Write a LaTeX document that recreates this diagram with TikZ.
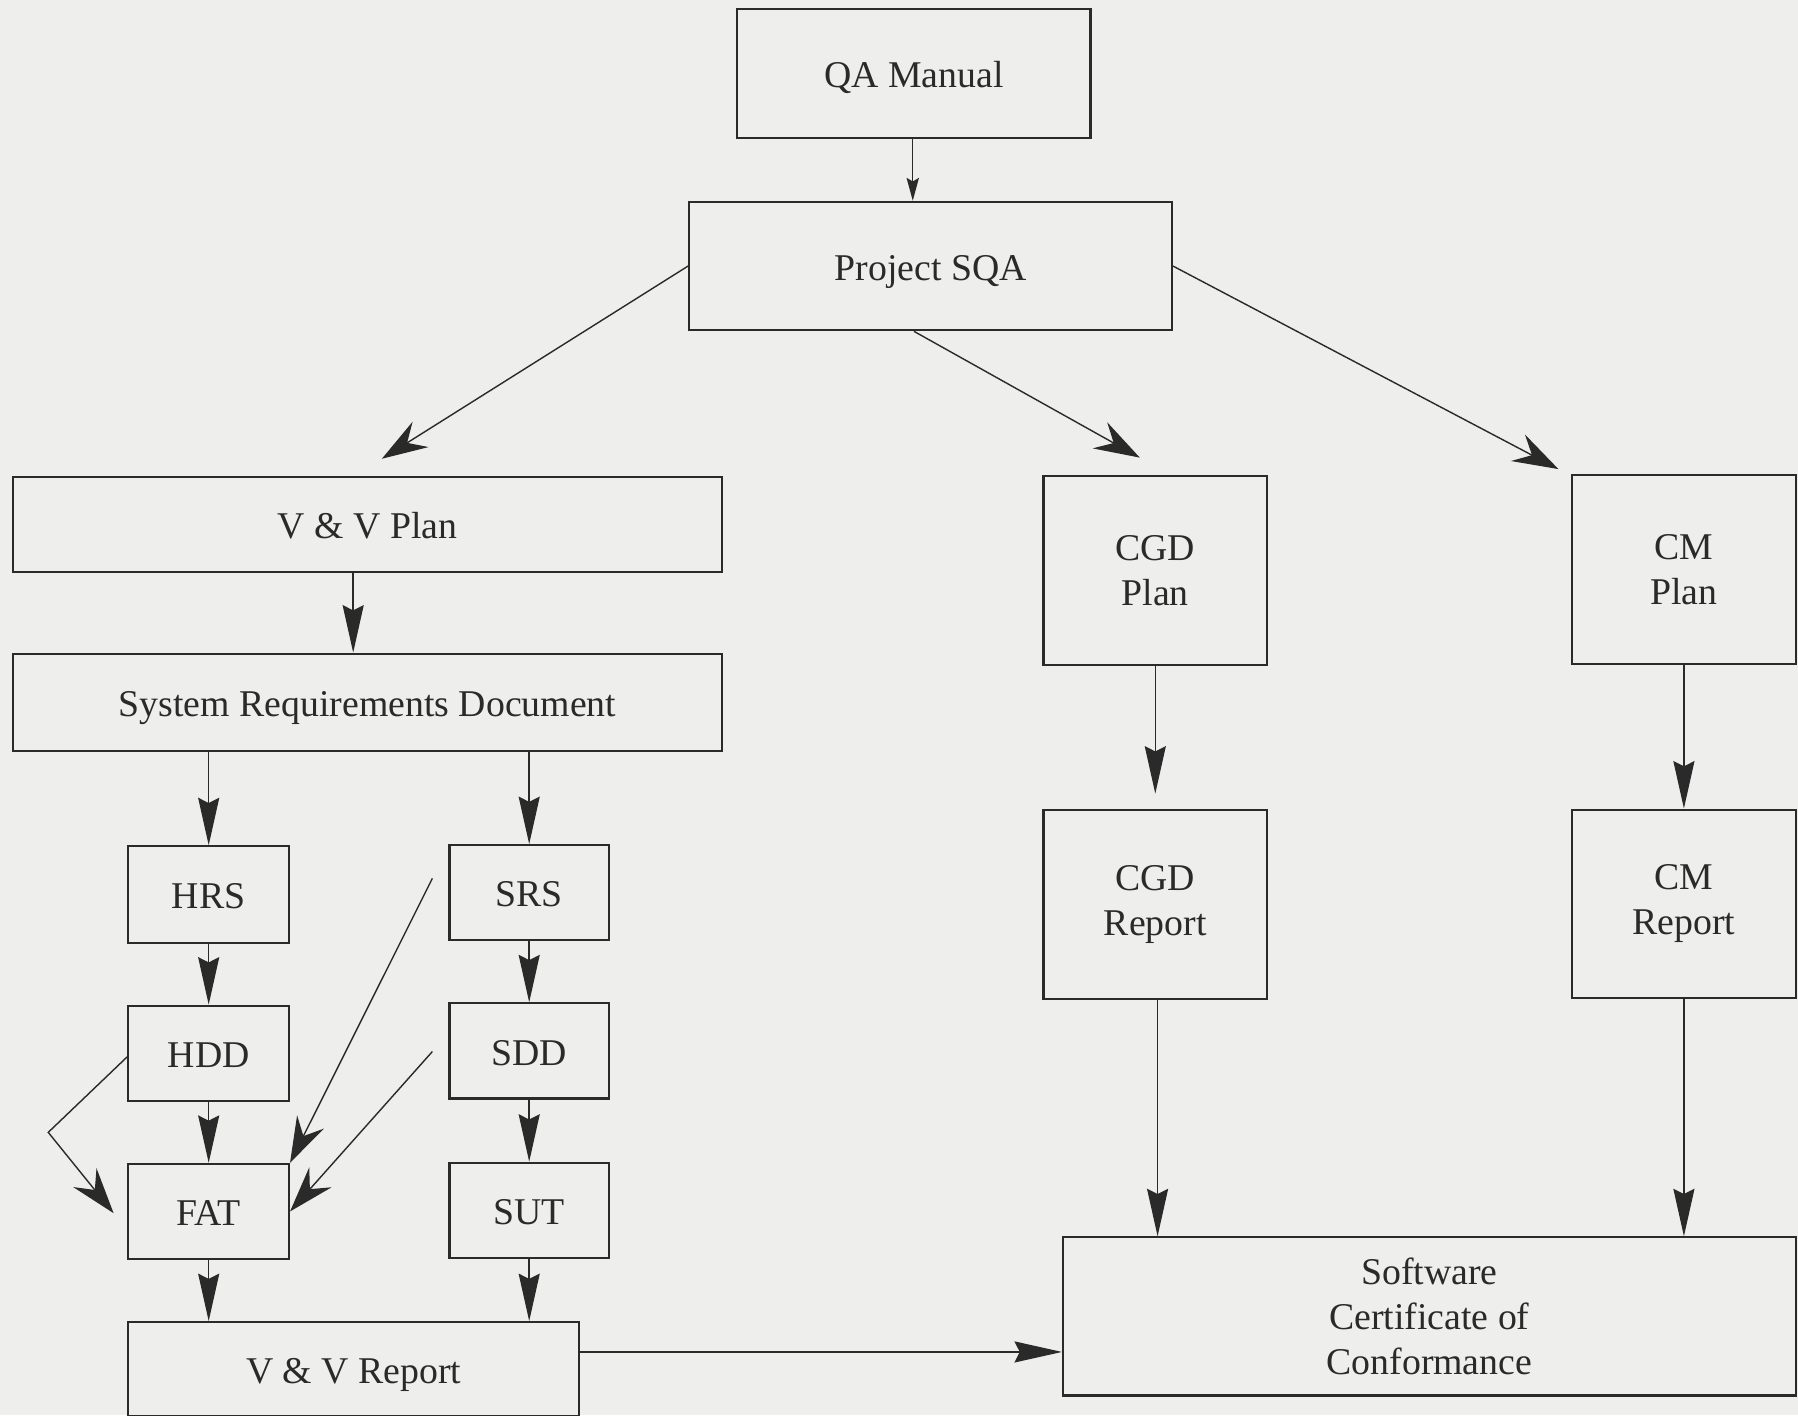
\documentclass[tikz,border=0pt]{standalone}
\usepackage{fontspec}
\setmainfont{Liberation Serif}
\usetikzlibrary{arrows.meta,calc}
\definecolor{bg}{RGB}{238,238,236}
\definecolor{ink}{RGB}{42,42,42}
\begin{document}
\begin{tikzpicture}[x=0.022934cm, y=-0.022934cm,
  box/.style={draw=ink, line width=1.2pt, rectangle, inner sep=0pt, align=center, text=ink,
    font=\fontsize{21.5}{25.6}\selectfont},
  one/.style={box, text height=16pt, text depth=0pt},
  wh/.style 2 args={minimum width=#1*0.022934cm, minimum height=#2*0.022934cm},
  conn/.style={draw=ink, line width=0.8pt},
  vhead/.style={conn, -{Stealth[length=27pt,width=12pt,inset=3pt]}},
  shead/.style={conn, -{Stealth[length=13pt,width=7pt,inset=2pt]}},
  dhead/.style={conn, -{Stealth[length=26pt,width=17pt,inset=9pt]}},
]
\fill[bg] (0,0) rectangle (1568,1234);
\useasboundingbox (0,0) rectangle (1568,1234);

\node[one, wh={308}{112}] (qa) at (797,64) {QA Manual};
\node[one, wh={421}{112}] (sqa) at (811.5,232) {Project SQA};
\node[one, wh={619}{83}] (vvp) at (320.5,457.5) {V \& V Plan};
\node[one, wh={619}{85}] (srd) at (320.5,612.5) {System Requirements Document};
\node[one, wh={140}{84}] (hrs) at (182,780) {HRS};
\node[one, wh={139}{83}] (srs) at (461.5,778.5) {SRS};
\node[one, wh={140}{83}] (hdd) at (182,918.5) {HDD};
\node[one, wh={139}{83}] (sdd) at (461.5,916.5) {SDD};
\node[one, wh={140}{83}] (fat) at (182,1056.5) {FAT};
\node[one, wh={139}{83}] (sut) at (461.5,1055.5) {SUT};
\node[one, wh={393}{82}] (vvr) at (308.5,1194) {V \& V Report};
\node[box, wh={195}{165}] (cgdp) at (1007.5,497.5) {CGD\\Plan};
\node[box, wh={195}{165}] (cmp) at (1468.5,496.5) {CM\\Plan};
\node[box, wh={195}{165}] (cgdr) at (1007.5,788.5) {CGD\\Report};
\node[box, wh={195}{164}] (cmr) at (1468.5,788) {CM\\Report};
\node[box, wh={639}{138}] (cert) at (1246.5,1148) {Software\\Certificate of\\Conformance};

% top
\draw[shead] ($(qa.south)+(-1,0)$) -- ($(qa.south |- sqa.north)+(-1,0)$);
\draw[dhead] (sqa.west) -- ($(vvp.north)+(12.5,-15)$);
\draw[dhead] ($(sqa.south)+(-14.5,0)$) -- ($(cgdp.north)+(-13.5,-15)$);
\draw[dhead] (sqa.east) -- ($(cmp.north west)+(-11,-4)$);

% left column
\draw[vhead] ($(vvp.south)+(-12.5,0)$) -- ($(srd.north)+(-12.5,0)$);
\draw[vhead] (srd.south -| hrs.north) -- (hrs.north);
\draw[vhead] (srd.south -| srs.north) -- (srs.north);
\draw[vhead] (hrs.south) -- (hdd.north);
\draw[vhead] (hdd.south) -- (fat.north);
\draw[vhead] (srs.south) -- (sdd.north);
\draw[vhead] (sdd.south) -- (sut.north);
\draw[vhead] (fat.south) -- (fat.south |- vvr.north);
\draw[vhead] (sut.south) -- (sut.south |- vvr.north);
\draw[dhead] ($(hdd.west)+(0,3)$) -- ($(hdd.west)+(-69,69)$) -- ($(fat.west)+(-12,1.5)$);
\draw[dhead] ($(srs.west)+(-14,-12.5)$) -- (fat.north east);
\draw[dhead] ($(sdd.west)+(-14,0.5)$) -- (fat.east);

% right columns
\draw[vhead] (cgdp.south) -- ($(cgdr.north)+(0,-13)$);
\draw[vhead] (cmp.south) -- (cmr.north);
\draw[vhead] ($(cgdr.south)+(2,0)$) -- ($(cgdr.south |- cert.north)+(2,0)$);
\draw[vhead] (cmr.south) -- (cmr.south |- cert.north);
\coordinate (vve) at ($(vvr.east)+(0,-15)$);
\draw[vhead] (vve) -- (vve -| cert.west);
\end{tikzpicture}
\end{document}
